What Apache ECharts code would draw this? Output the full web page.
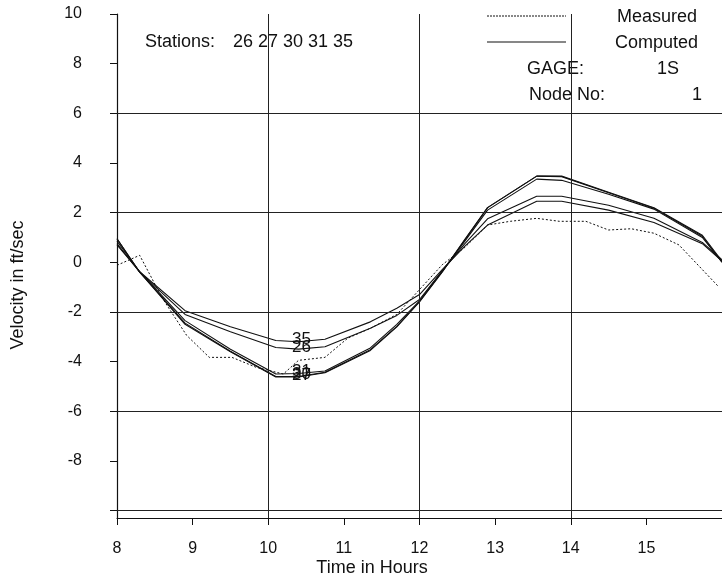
<!DOCTYPE html>
<html>
<head>
<meta charset="utf-8">
<script src="https://cdn.jsdelivr.net/npm/echarts@6/dist/echarts.min.js"></script>
<style>html,body{margin:0;padding:0;background:#fff}#c{width:722px;height:580px}</style>
</head>
<body>
<div id="c"></div>
<script>
// ---- data ----
const stations = ['26', '27', '30', '31', '35'];
const compTimes = [8.0, 8.3, 8.9, 9.5, 10.1, 10.4, 10.75, 11.35, 11.7, 12.0, 12.3, 12.6, 12.9, 13.55, 13.88, 14.5, 15.1, 15.74, 16.0];
const comp26 = [0.75, -0.4, -2.1, -2.8, -3.43, -3.5, -3.4, -2.66, -2.14, -1.5, -0.35, 0.75, 1.75, 2.66, 2.66, 2.3, 1.77, 0.8, 0.1];
const comp27 = [0.95, -0.4, -2.5, -3.6, -4.62, -4.62, -4.45, -3.55, -2.6, -1.6, -0.4, 0.9, 2.2, 3.47, 3.47, 2.82, 2.2, 1.09, 0.05];
const comp30 = [0.95, -0.4, -2.45, -3.58, -4.6, -4.6, -4.43, -3.52, -2.58, -1.58, -0.38, 0.92, 2.2, 3.47, 3.45, 2.8, 2.18, 1.05, 0.0];
const comp31 = [0.85, -0.38, -2.35, -3.5, -4.5, -4.48, -4.38, -3.45, -2.5, -1.55, -0.35, 0.85, 2.1, 3.35, 3.3, 2.74, 2.14, 1.0, 0.0];
const comp35 = [0.7, -0.38, -1.95, -2.6, -3.15, -3.2, -3.1, -2.4, -1.85, -1.3, -0.3, 0.65, 1.5, 2.46, 2.46, 2.1, 1.6, 0.75, 0.05];
const measTimes = [8.0, 8.3, 8.6, 8.92, 9.22, 9.52, 9.84, 10.2, 10.4, 10.75, 11.05, 11.35, 11.7, 12.0, 12.3, 12.6, 12.9, 13.2, 13.55, 13.85, 14.2, 14.5, 14.8, 15.1, 15.43, 15.96];
const measVals = [-0.12, 0.28, -1.45, -2.94, -3.83, -3.83, -4.23, -4.5, -3.95, -3.83, -3.06, -2.66, -2.1, -1.1, -0.1, 0.6, 1.5, 1.65, 1.77, 1.65, 1.65, 1.3, 1.35, 1.17, 0.7, -1.0];
const labelTime = 10.4;
const xTicks = [8, 9, 10, 11, 12, 13, 14, 15];
const yLabels = [-8, -6, -4, -2, 0, 2, 4, 6, 8, 10];
const yTicks = [-10, -8, -6, -4, -2, 0, 2, 4, 6, 8, 10];
const hGrid = [6, 2, -2, -6, -10];
const vGrid = [10, 12, 14];
const yMin = -10.3, yMax = 10, xMin = 8, xMax = 16;

// ---- chart ----
const FONT = 'Liberation Sans';
const INK = '#111';
const AFS = 18; // annotation font size
const chart = echarts.init(document.getElementById('c'), null, {renderer: 'canvas'});

const compSeries = {'26': comp26, '27': comp27, '30': comp30, '31': comp31, '35': comp35};
const labelOrder = ['35', '26', '31', '27', '30'];

function buildComp(st) {
  const vals = compSeries[st];
  const idx = compTimes.indexOf(labelTime);
  return {
    name: 'Computed',
    type: 'line',
    symbol: 'none',
    silent: true,
    animation: false,
    color: INK,
    lineStyle: {color: INK, width: 1.1, type: 'solid'},
    data: compTimes.map((t, i) => [t, vals[i]]),
    markPoint: {
      silent: true,
      animation: false,
      symbol: 'rect',
      symbolSize: [30, 20],
      itemStyle: {color: 'rgba(0,0,0,0)'},
      label: {show: true, position: 'inside', formatter: st, fontFamily: FONT, fontSize: 17, color: INK, offset: [3, -2]},
      data: [{coord: [compTimes[idx], vals[idx]]}]
    },
    z: 3
  };
}

const series = [
  {
    name: 'Measured',
    type: 'line',
    symbol: 'none',
    silent: true,
    animation: false,
    color: INK,
    lineStyle: {color: INK, width: 1, type: [2, 2]},
    data: measTimes.map((t, i) => [t, measVals[i]]),
    z: 2
  }
];
labelOrder.forEach(st => series.push(buildComp(st)));
series.push({
  type: 'line',
  data: [],
  silent: true,
  animation: false,
  markLine: {
    silent: true,
    symbol: 'none',
    animation: false,
    label: {show: false},
    lineStyle: {color: '#222', width: 1, type: 'solid'},
    data: hGrid.map(v => ({yAxis: v})).concat(vGrid.map(v => ({xAxis: v})))
  }
});

function txt(x, y, s, align, size) {
  return {type: 'text', x: x, y: y,
    style: {text: s, font: (size || AFS) + 'px ' + FONT, fill: INK, align: align || 'left', verticalAlign: 'middle'}};
}

chart.setOption({
  backgroundColor: '#fff',
  animation: false,
  grid: {left: 117, top: 14, width: 608, height: 504, containLabel: false},
  xAxis: {
    type: 'value', min: xMin, max: xMax, interval: 1,
    axisLine: {show: true, onZero: false, lineStyle: {color: INK, width: 1.2}},
    axisTick: {show: true, length: 7, lineStyle: {color: INK}},
    splitLine: {show: false},
    axisLabel: {
      margin: 23, fontFamily: FONT, fontSize: 16, color: INK,
      customValues: xTicks
    }
  },
  yAxis: {
    type: 'value', min: yMin, max: yMax,
    axisLine: {show: true, onZero: false, lineStyle: {color: INK, width: 1.2}},
    axisTick: {show: true, length: 7, lineStyle: {color: INK}, customValues: yTicks},
    splitLine: {show: false},
    axisLabel: {
      margin: 35, fontFamily: FONT, fontSize: 16, color: INK,
      customValues: yLabels
    }
  },
  graphic: [
    {type: 'text', x: 18, y: 285, rotation: Math.PI / 2,
     style: {text: 'Velocity in ft/sec', font: '18px ' + FONT, fill: INK, align: 'center', verticalAlign: 'middle'}},
    txt(372, 568, 'Time in Hours', 'center'),
    txt(145, 42, 'Stations:'),
    txt(233, 42, stations.join(' ')),
    {type: 'line', shape: {x1: 487, y1: 16, x2: 566, y2: 16}, style: {stroke: INK, lineWidth: 1, lineDash: [2, 1]}},
    {type: 'line', shape: {x1: 487, y1: 42, x2: 566, y2: 42}, style: {stroke: INK, lineWidth: 1.1}},
    txt(617, 17, 'Measured'),
    txt(615, 43, 'Computed'),
    txt(527, 69, 'GAGE:'),
    txt(657, 69, '1S'),
    txt(529, 95, 'Node No:'),
    txt(697, 95, '1', 'center')
  ],
  series: series
});
</script>
</body>
</html>
